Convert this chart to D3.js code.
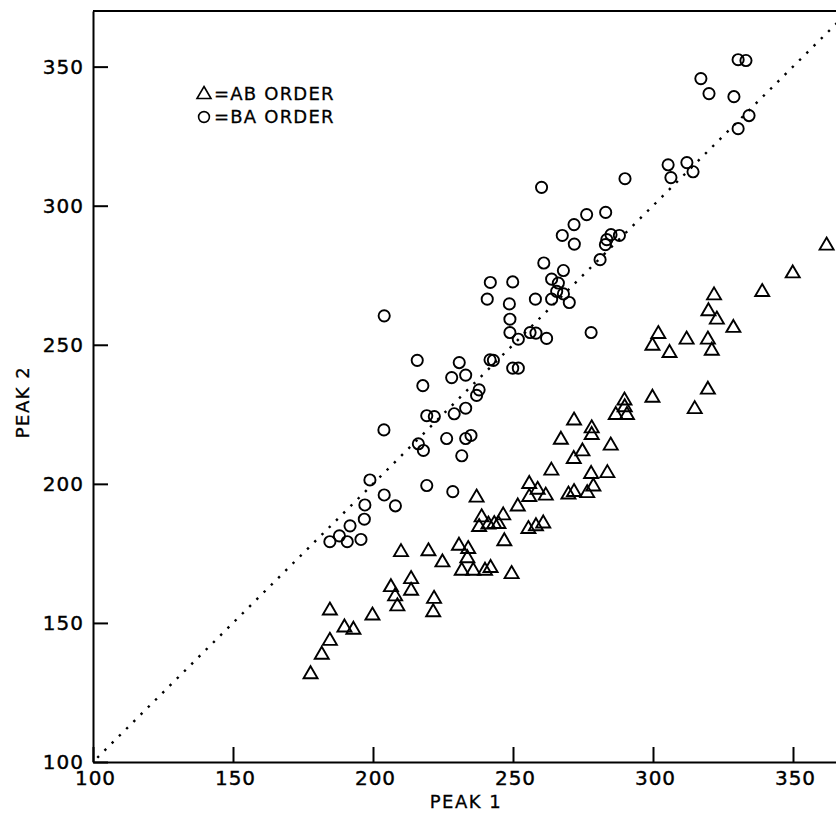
<!DOCTYPE html>
<html><head><meta charset="utf-8">
<script src="https://cdn.jsdelivr.net/npm/d3@7"></script>
<style>body{margin:0;background:#fff}svg{display:block}</style>
</head><body><svg id="chart" width="836" height="816"></svg>
<script>
// AB order (triangles)
const abPeak1 = [362,349.9,339,321.8,319.8,322.8,328.7,301.9,299.8,305.9,312,319.6,321,319.6,314.9,299.8,289.8,289.9,290.7,286.7,271.8,278.1,278.1,284.9,274.8,271.7,267.1,263.7,277.9,283.7,278.7,276.5,271.8,269.8,255.8,258.8,255.8,261.7,237,251.7,238.8,246.5,237.9,241.2,243.3,244.8,255.5,258.2,260.8,246.9,230.7,234,233.7,231.7,235.8,240,242,249.5,224.8,219.8,210,213.6,213.6,206.4,207.9,208.7,221.8,221.5,199.8,184.6,189.8,193,184.6,181.7,177.7];
const abPeak2 = [286.2,276.2,269.5,268.3,262.6,259.6,256.6,254.4,250.2,247.6,252.4,252.4,248.4,234.4,227.4,231.5,230.5,228.1,225.3,225.3,223.3,220.5,218.1,214.3,212.2,209.5,216.4,205.3,204.1,204.4,199.6,197.2,197.6,196.7,200.5,198.4,195.8,196.3,195.6,192.4,188.5,189.2,185,185.9,186.1,186.1,184.3,185.3,186.3,179.9,178.3,177.1,173.8,169.3,169.3,169.3,170.3,168.1,172.3,176.3,176,166.3,162.1,163.4,160.1,156.5,159.2,154.4,153.2,155,148.9,148.1,144.1,139.1,132.1];
// BA order (circles)
const baPeak1 = [330.4,333.2,317.1,320,328.9,334.3,330.4,305.4,306.4,312.1,314.3,290,260.2,283.1,276.3,271.8,267.6,271.9,285,288,283.5,283,281.1,261,268,263.8,266.2,265.6,268,263.8,270.1,258,249.9,241.9,240.8,248.7,248.9,248.9,251.9,256.1,258.2,262,277.9,204,215.8,230.8,233.1,228.1,217.8,237.9,237,241.8,243,249.9,251.9,219.2,221.9,229,233.1,203.9,226.3,233.1,235,216.2,218,231.7,219.2,228.5,198.9,204,208,197.1,196.9,191.8,188,184.6,190.8,195.7];
const baPeak2 = [352.5,352.2,345.7,340.3,339.2,332.4,327.7,314.7,310.1,315.5,312.2,309.7,306.6,297.6,296.8,293.2,289.3,286.2,289.6,289.3,287.8,286,280.6,279.4,276.7,273.6,272.2,269.2,268.3,266.4,265.2,266.4,272.6,272.4,266.4,264.7,259.2,254.4,252,254.4,254.2,252.3,254.4,260.4,244.4,243.6,239.1,238.2,235.3,233.8,231.8,244.6,244.4,241.6,241.6,224.5,224.2,225.2,227.2,219.4,216.3,216.3,217.4,214.4,212,210.1,199.4,197.2,201.4,196,192.1,192.4,187.3,184.9,181.3,179.2,179.2,180];
const xTicks = [100,150,200,250,300,350];
const yTicks = [100,150,200,250,300,350];
const xDomain = [100,370];
const yDomain = [100,370];
const legendLabels = ["=AB ORDER","=BA ORDER"];
const xTitle = "PEAK 1";
const yTitle = "PEAK 2";

const svg = d3.select("#chart");
const FONT = "'DejaVu Sans', sans-serif";
const x = d3.scaleLinear().domain(xDomain).range([93, 849]);
const y = d3.scaleLinear().domain(yDomain).range([762, 11]);

// frame top / right
svg.append("line").attr("x1", x(xDomain[0])).attr("x2", x(xDomain[1]))
  .attr("y1", y(yDomain[1])).attr("y2", y(yDomain[1]))
  .attr("stroke", "#000").attr("stroke-width", 2);
svg.append("line").attr("x1", x(xDomain[1])).attr("x2", x(xDomain[1]))
  .attr("y1", y(yDomain[0])).attr("y2", y(yDomain[1]))
  .attr("stroke", "#000").attr("stroke-width", 2);

// diagonal dotted
svg.append("line")
  .attr("x1", x(100)).attr("y1", y(100)).attr("x2", x(370)).attr("y2", y(370))
  .attr("stroke", "#000").attr("stroke-width", 2.4)
  .attr("stroke-dasharray", "2.4 7.8")
  .attr("stroke-dashoffset", -6);

const xAxis = svg.append("g").attr("transform", `translate(0,${y(yDomain[0])})`)
  .call(d3.axisBottom(x).tickValues(xTicks).tickSizeInner(-15).tickSizeOuter(0).tickPadding(9).tickFormat(d3.format("d")));
const yAxis = svg.append("g").attr("transform", `translate(${x(xDomain[0])},0)`)
  .call(d3.axisLeft(y).tickValues(yTicks).tickSizeInner(-15).tickSizeOuter(0).tickPadding(9).tickFormat(d3.format("d")));
[xAxis, yAxis].forEach(g => {
  g.select(".domain").attr("stroke", "#000").attr("stroke-width", 2);
  g.selectAll(".tick line").attr("stroke", "#000").attr("stroke-width", 2);
  g.selectAll(".tick text").attr("fill", "#000").attr("stroke", "#000").attr("stroke-width", 0.4)
    .style("font-family", FONT).style("font-size", "20px").style("letter-spacing", "1px");
});
xAxis.selectAll(".tick text").attr("dx", "2");

// markers
const triPath = "M0,-6.5L7,5.5L-7,5.5Z";
svg.append("g").selectAll("path").data(abPeak1.map((v, i) => [v, abPeak2[i]]))
  .join("path").attr("d", triPath)
  .attr("transform", d => `translate(${x(d[0])},${y(d[1])})`)
  .attr("fill", "none").attr("stroke", "#000").attr("stroke-width", 1.9).attr("stroke-linejoin", "miter");
svg.append("g").selectAll("circle").data(baPeak1.map((v, i) => [v, baPeak2[i]]))
  .join("circle").attr("r", 5.6)
  .attr("cx", d => x(d[0])).attr("cy", d => y(d[1]))
  .attr("fill", "none").attr("stroke", "#000").attr("stroke-width", 1.9);

// legend
const leg = svg.append("g").attr("transform", "translate(204,93)");
leg.append("path").attr("d", triPath).attr("fill", "none").attr("stroke", "#000").attr("stroke-width", 1.6);
leg.append("circle").attr("cx", 0).attr("cy", 24).attr("r", 5.4).attr("fill", "none").attr("stroke", "#000").attr("stroke-width", 1.6);
leg.selectAll("text").data(legendLabels).join("text")
  .attr("x", 10).attr("y", (d, i) => 7 + i * 23)
  .text(d => d).attr("stroke", "#000").attr("stroke-width", 0.3)
  .style("font-family", FONT).style("font-size", "18px").style("letter-spacing", "1.2px");

// axis titles
svg.append("text").attr("x", 466).attr("y", 808).attr("text-anchor", "middle")
  .text(xTitle).attr("stroke", "#000").attr("stroke-width", 0.3)
  .style("font-family", FONT).style("font-size", "18px").style("letter-spacing", "1.5px");
svg.append("text").attr("transform", "translate(29,402) rotate(-90)").attr("text-anchor", "middle")
  .text(yTitle).attr("stroke", "#000").attr("stroke-width", 0.3)
  .style("font-family", FONT).style("font-size", "18px").style("letter-spacing", "1.5px");
</script>
</body></html>
